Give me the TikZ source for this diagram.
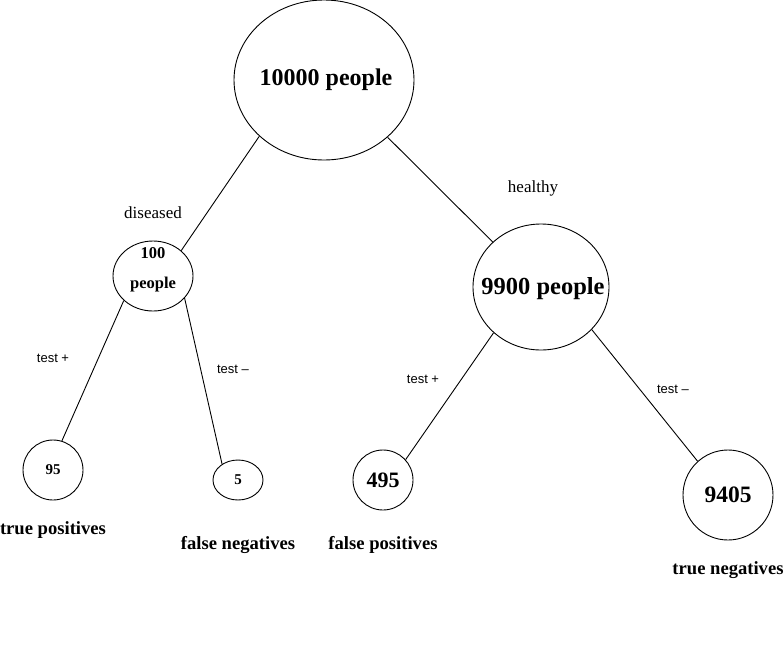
\documentclass[tikz,border=0pt]{standalone}
\usepackage{fontspec}
\setmainfont{Liberation Serif}
\newfontfamily\labelfont{Liberation Sans}
\usetikzlibrary{shapes.geometric}

\begin{document}
\begin{tikzpicture}[x=1pt,y=-1pt,line width=0.9pt,
  bubble/.style={draw,ellipse,inner sep=0pt},
  count/.style={font=\bfseries\fontsize{#1}{#1}\selectfont,align=center},
  branch/.style={font=\fontsize{17}{19}\selectfont},
  testlbl/.style={font=\labelfont\fontsize{13}{15}\selectfont},
  outcome/.style={font=\bfseries\fontsize{18.6}{20}\selectfont}]
\useasboundingbox (0,0) rectangle (784,667);
% population and its two groups
\node[bubble,minimum width=180,minimum height=160,label={[count=24,xshift=2]center:10000 people}] (total) at (324,80) {};
\node[bubble,minimum width=80,minimum height=70,label={[count=16.5,font=\bfseries\fontsize{16.5}{30}\selectfont,yshift=6]center:100\\people}] (sick) at (153,276) {};
\node[bubble,minimum width=136,minimum height=126,label={[count=24.5,xshift=2,yshift=-2]center:9900 people}] (well) at (541,287) {};
% test outcomes
\node[bubble,minimum width=60,minimum height=60,label={[count=15]center:95}] (tp) at (53,470) {};
\node[bubble,minimum width=50,minimum height=40,label={[count=15]center:5}] (fn) at (238,480) {};
\node[bubble,minimum width=60,minimum height=60,label={[count=22]center:495}] (fp) at (383,480) {};
\node[bubble,minimum width=90,minimum height=90,label={[count=23.5]center:9405}] (tn) at (728,495) {};
\node[outcome] (tptext) at (53,530) {true positives};
\node[outcome] (fntext) at (238,545) {false negatives};
\node[outcome] (fptext) at (383,545) {false positives};
\node[outcome] (tntext) at (728,570) {true negatives};
% branches
\draw (total.221) -- (sick.42);
\draw (total.318) -- (well.137);
\draw (sick.220) -- (tp.73);
\draw (sick.325) -- (fn.135);
\draw (well.224) -- (fp.42);
\draw (well.320) -- (tn.132);
\node[branch] (sicklbl) at (153,213) {diseased};
\node[branch] (welllbl) at (533,188) {healthy};
\node[testlbl] (tplbl) at (53,358) {test +};
\node[testlbl] (fnlbl) at (233,369) {test –};
\node[testlbl] (fplbl) at (423,379) {test +};
\node[testlbl] (tnlbl) at (673,389) {test –};
\end{tikzpicture}
\end{document}
